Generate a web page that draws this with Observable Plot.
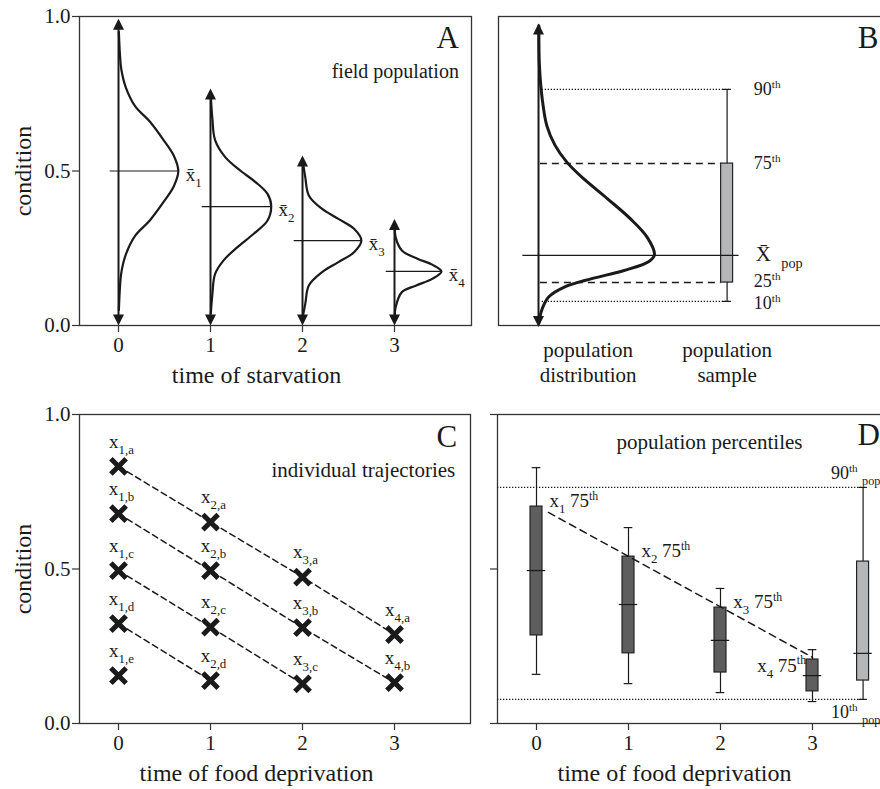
<!DOCTYPE html>
<html><head><meta charset="utf-8">
<script src="https://cdn.jsdelivr.net/npm/d3@7"></script>
<script src="https://cdn.jsdelivr.net/npm/@observablehq/plot@0.6"></script>
<style>
body{margin:0;background:#fff;}
#fig{position:relative;width:880px;height:789px;overflow:hidden;background:#fff;font-family:"Liberation Serif","Times New Roman",serif;}
.panel{position:absolute;overflow:visible;}
.panel svg{max-width:none !important;font-family:"Liberation Serif","Times New Roman",serif !important;overflow:visible;}
.panel svg text{font-family:"Liberation Serif","Times New Roman",serif;}
</style></head><body><div id="fig"></div>
<script>
// ================= DATA =================
const times = [0, 1, 2, 3];
const condTicks = [0, 0.5, 1];

// Panel A: field population distributions at each time of starvation
const meanA = [0.5, 0.385, 0.275, 0.175];
const peakA = [0.65, 0.66, 0.64, 0.51];
const arrowTopA = [0.993, 0.767, 0.55, 0.345];
const labelA = ["x\u0304_{1}", "x\u0304_{2}", "x\u0304_{3}", "x\u0304_{4}"];
const densA0 = [[0.004,0.95],[0.015,0.88],[0.03,0.83],[0.08,0.77],[0.18,0.71],[0.34,0.66],[0.49,0.60],[0.60,0.55],[0.65,0.50],[0.60,0.45],[0.49,0.40],[0.34,0.34],[0.18,0.29],[0.08,0.23],[0.03,0.17],[0.015,0.12],[0.004,0.05]];
const densA1 = [[0.004,0.74],[0.02,0.67],[0.05,0.60],[0.16,0.545],[0.33,0.50],[0.49,0.464],[0.62,0.426],[0.66,0.386],[0.62,0.34],[0.47,0.297],[0.29,0.253],[0.14,0.21],[0.05,0.167],[0.02,0.10],[0.004,0.04]];
const densA2 = [[0.004,0.53],[0.03,0.48],[0.07,0.42],[0.21,0.378],[0.39,0.345],[0.56,0.313],[0.64,0.275],[0.56,0.237],[0.39,0.205],[0.21,0.172],[0.07,0.13],[0.03,0.07],[0.004,0.03]];
const densA3 = [[0.004,0.325],[0.012,0.286],[0.08,0.243],[0.25,0.216],[0.41,0.197],[0.51,0.175],[0.41,0.151],[0.23,0.129],[0.08,0.108],[0.012,0.059],[0.004,0.035]];

// Panel B: population distribution and sample percentiles
const densB = [[0.004,0.97],[0.01,0.84],[0.04,0.734],[0.09,0.647],[0.18,0.583],[0.31,0.528],[0.49,0.475],[0.75,0.41],[1.0,0.345],[1.18,0.286],[1.26,0.229],[1.2,0.207],[0.93,0.178],[0.57,0.151],[0.28,0.124],[0.11,0.092],[0.04,0.054],[0.012,0.022],[0.004,0.008]];
const popPctNames = ["10^{th}", "25^{th}", "75^{th}", "90^{th}"];
const popPct = [0.078, 0.139, 0.524, 0.764];
const popPctLabelY = [0.072, 0.142, 0.524, 0.764];
const popMean = 0.227;
const arrowB = [-0.005, 0.977];
const sampleB = 2.05;        // position of the population-sample box in panel B
const distLabelB = 0.54;     // position of the "population distribution" caption

// Panel C: individual trajectories
const indivIds = ["a", "b", "c", "d", "e"];
const indivA = [0.832, 0.652, 0.474, 0.288];
const indivB = [0.679, 0.495, 0.31, 0.132];
const indivC = [0.495, 0.312, 0.128];
const indivD = [0.323, 0.139];
const indivE = [0.155];

// Panel D: percentiles per time of food deprivation
const boxWhiskHi = [0.828, 0.634, 0.437, 0.239];
const boxQ75 = [0.702, 0.540, 0.375, 0.207];
const boxMed = [0.495, 0.385, 0.269, 0.155];
const boxQ25 = [0.285, 0.227, 0.165, 0.104];
const boxWhiskLo = [0.159, 0.129, 0.100, 0.071];
const popBoxD = 3.55;
const trendD = [[0.13, 0.683], [3.0, 0.214]];
const labelD = ["x_{1} 75^{th}", "x_{2} 75^{th}", "x_{3} 75^{th}", "x_{4} 75^{th}"];

// ================= STYLE =================
const ink = "#1a1a1a";
const darkBox = "#5e5e5e";
const lightBox = "#b5b6b8";
const FS = 21, TITLE = 24, LETTER = 31, SMALL = 18;
const bw = 0.065, capW = 0.047, medW = 0.1;
const FONT = "'Liberation Serif', 'Times New Roman', serif";

const headUp = {draw(ctx) { ctx.moveTo(0, 0); ctx.lineTo(-5.5, 11); ctx.lineTo(5.5, 11); ctx.closePath(); }};
const headDown = {draw(ctx) { ctx.moveTo(0, 0); ctx.lineTo(-5.5, -11); ctx.lineTo(5.5, -11); ctx.closePath(); }};

function richify(svg) {
  const NS = "http://www.w3.org/2000/svg";
  for (const el of svg.querySelectorAll("text, tspan")) {
    if (el.children.length) continue;
    const s = el.textContent;
    if (!/[_^]\{/.test(s)) continue;
    const host = el.closest("[font-size]");
    const fs = host ? parseFloat(host.getAttribute("font-size")) : 20;
    el.textContent = "";
    let cur = 0, last = 0, m;
    const re = /([_^])\{([^}]*)\}/g;
    const push = (txt, shift, size) => {
      if (!txt) return;
      const ts = document.createElementNS(NS, "tspan");
      ts.textContent = txt;
      if (shift !== cur) ts.setAttribute("dy", (shift - cur).toFixed(1));
      cur = shift;
      if (size) ts.setAttribute("font-size", size.toFixed(1));
      el.appendChild(ts);
    };
    while ((m = re.exec(s))) {
      push(s.slice(last, m.index), 0, null);
      if (m[1] === "_") push(m[2], fs * 0.32, fs * 0.68);
      else push(m[2], -fs * 0.4, fs * 0.62);
      last = re.lastIndex;
    }
    push(s.slice(last), 0, null);
  }
}

function place(svg, left, top, w, h) {
  const d = document.createElement("div");
  d.className = "panel";
  d.style.left = left + "px";
  d.style.top = top + "px";
  d.style.width = w + "px";
  d.style.height = h + "px";
  svg.style.maxWidth = "none";
  svg.style.width = w + "px";
  svg.style.height = h + "px";
  svg.style.fontFamily = FONT;
  svg.setAttribute("font-family", FONT);
  d.appendChild(svg);
  document.getElementById("fig").appendChild(d);
  richify(svg);
}

const baseStyle = `font-family: ${FONT}; color: ${ink}; background: transparent; overflow: visible; max-width: none;`;
const frame = () => Plot.frame({stroke: "#333", strokeWidth: 1.3});
const yAxis = (labels) => Plot.axisY({ticks: condTicks, tickFormat: labels ? d3.format(".1f") : () => "", tickSize: 7, tickPadding: 2, fontSize: FS, label: null, stroke: "#333", strokeWidth: 1.2});
const xAxis = () => Plot.axisX({ticks: times, tickFormat: d3.format("d"), tickSize: 7, tickPadding: 5, fontSize: FS, label: null, stroke: "#333", strokeWidth: 1.2});
const yTitle = () => Plot.text(["condition"], {frameAnchor: "left", dx: -56, rotate: -90, textAnchor: "middle", lineAnchor: "middle", fontSize: TITLE, fill: ink});
const xTitle = (t) => Plot.text([t], {x: 1.5, frameAnchor: "bottom", dy: 50, textAnchor: "middle", lineAnchor: "middle", fontSize: TITLE, fill: ink});

// ================= PANEL A =================
const densA = [densA0, densA1, densA2, densA3];
const rowsA = densA.flatMap((pts, i) => pts.map(([dx, c]) => ({k: i, x: times[i] + dx, c})));
const plotA = Plot.plot({
  width: 490, height: 390, marginLeft: 79, marginRight: 19, marginTop: 16, marginBottom: 65,
  x: {domain: [-0.424, 3.837]}, y: {domain: [0, 1]},
  style: baseStyle,
  marks: [
    frame(), yAxis(true), xAxis(), yTitle(), xTitle("time of starvation"),
    Plot.ruleX(times, {x: d => d, y1: 0.01, y2: (d, i) => arrowTopA[i] - 0.01, stroke: ink, strokeWidth: 2}),
    Plot.dot(times, {x: d => d, y: (d, i) => arrowTopA[i], symbol: headUp, fill: ink, stroke: "none"}),
    Plot.dot(times, {x: d => d, y: 0, symbol: headDown, fill: ink, stroke: "none"}),
    Plot.ruleY(times, {y: (d, i) => meanA[i], x1: d => d - 0.09, x2: (d, i) => d + peakA[i], stroke: ink, strokeWidth: 1.2}),
    Plot.line(rowsA, {x: "x", y: "c", z: "k", curve: "catmull-rom", stroke: ink, strokeWidth: 2.2}),
    Plot.text(times, {x: (d, i) => d + peakA[i] + 0.08, y: (d, i) => meanA[i] - 0.012, text: (d, i) => labelA[i], textAnchor: "start", fontSize: 19, fill: ink}),
    Plot.text(["A"], {x: 3.70, y: 0.929, textAnchor: "end", fontSize: LETTER, fill: ink}),
    Plot.text(["field population"], {x: 3.70, y: 0.822, textAnchor: "end", fontSize: 20, fill: ink})
  ]
});
place(plotA, 0, 0, 490, 390);

// ================= PANEL B =================
const rowsB = densB.map(([dx, c]) => ({x: dx, c}));
const pctRows = popPct.map((v, i) => ({v, ly: popPctLabelY[i], name: popPctNames[i], dotted: i === 0 || i === 3}));
const plotB = Plot.plot({
  width: 410, height: 390, marginLeft: 8, marginRight: 10, marginTop: 16, marginBottom: 65,
  x: {domain: [-0.435, 3.826], axis: null}, y: {domain: [0, 1], axis: null},
  style: baseStyle,
  marks: [
    frame(),
    Plot.ruleY(pctRows.filter(d => d.dotted), {y: "v", x1: 0.04, x2: sampleB + capW, stroke: ink, strokeWidth: 1.3, strokeDasharray: "1.3,1.7"}),
    Plot.ruleY(pctRows.filter(d => !d.dotted), {y: "v", x1: 0.02, x2: sampleB - bw, stroke: ink, strokeWidth: 1.5, strokeDasharray: "7,5"}),
    Plot.ruleX([sampleB], {x: d => d, y1: popPct[0], y2: popPct[3], stroke: ink, strokeWidth: 1.2}),
    Plot.ruleY([popPct[0], popPct[3]], {y: d => d, x1: sampleB - capW, x2: sampleB + capW, stroke: ink, strokeWidth: 1.2}),
    Plot.rect([sampleB], {x1: d => d - bw, x2: d => d + bw, y1: popPct[1], y2: popPct[2], fill: lightBox, stroke: "#222", strokeWidth: 1.2}),
    Plot.ruleY([popMean], {y: d => d, x1: -0.17, x2: sampleB + 0.13, stroke: ink, strokeWidth: 1.2}),
    Plot.ruleX([0], {x: d => d, y1: arrowB[0] + 0.01, y2: arrowB[1] - 0.01, stroke: ink, strokeWidth: 2}),
    Plot.dot([0], {x: d => d, y: arrowB[1], symbol: headUp, fill: ink, stroke: "none"}),
    Plot.dot([0], {x: d => d, y: arrowB[0], symbol: headDown, fill: ink, stroke: "none"}),
    Plot.line(rowsB, {x: "x", y: "c", curve: "catmull-rom", stroke: ink, strokeWidth: 3}),
    Plot.text(pctRows, {x: sampleB + 0.29, y: "ly", text: "name", textAnchor: "start", fontSize: SMALL, fill: ink}),
    Plot.text(["X\u0304\u2002_{pop}"], {x: sampleB + 0.31, y: popMean + 0.002, textAnchor: "start", fontSize: 21, fill: ink}),
    Plot.text(["population\ndistribution"], {x: distLabelB, frameAnchor: "bottom", dy: 36, textAnchor: "middle", lineAnchor: "middle", lineHeight: 1.18, fontSize: FS, fill: ink}),
    Plot.text(["population\nsample"], {x: sampleB, frameAnchor: "bottom", dy: 36, textAnchor: "middle", lineAnchor: "middle", lineHeight: 1.18, fontSize: FS, fill: ink}),
    Plot.text(["B"], {x: 3.47, y: 0.929, textAnchor: "start", fontSize: LETTER, fill: ink})
  ]
});
place(plotB, 490, 0, 410, 390);

// ================= PANEL C =================
const trajRows = [indivA, indivB, indivC, indivD, indivE].flatMap((vals, j) => vals.map((c, t) => ({id: indivIds[j], t, c})));
const plotC = Plot.plot({
  width: 490, height: 399, marginLeft: 79, marginRight: 20, marginTop: 24, marginBottom: 66,
  x: {domain: [-0.424, 3.826]}, y: {domain: [0, 1]},
  style: baseStyle,
  marks: [
    frame(), yAxis(true), xAxis(), yTitle(), xTitle("time of food deprivation"),
    Plot.line(trajRows, {x: "t", y: "c", z: "id", stroke: ink, strokeWidth: 1.5, strokeDasharray: "6,4"}),
    Plot.dot(trajRows, {x: "t", y: "c", symbol: "times", r: 7, stroke: ink, strokeWidth: 5}),
    Plot.text(trajRows, {x: "t", y: "c", text: d => `x_{${d.t + 1},${d.id}}`, dx: 3, dy: -25, fontSize: 19, fill: ink}),
    Plot.text(["C"], {x: 3.68, y: 0.926, textAnchor: "end", fontSize: LETTER, fill: ink}),
    Plot.text(["individual trajectories"], {x: 3.66, y: 0.819, textAnchor: "end", fontSize: FS, fill: ink})
  ]
});
place(plotC, 0, 390, 490, 399);

// ================= PANEL D =================
const boxRows = times.map((t, i) => ({t, hi: boxWhiskHi[i], q75: boxQ75[i], med: boxMed[i], q25: boxQ25[i], lo: boxWhiskLo[i], fill: darkBox}));
boxRows.push({t: popBoxD, hi: popPct[3], q75: popPct[2], med: popMean, q25: popPct[1], lo: popPct[0], fill: lightBox});
const labelRowsD = times.map((t, i) => ({t, c: boxQ75[i], text: labelD[i]}));
const plotD = Plot.plot({
  width: 410, height: 399, marginLeft: 7, marginRight: 10, marginTop: 24, marginBottom: 66,
  x: {domain: [-0.424, 3.848]}, y: {domain: [0, 1]},
  style: baseStyle,
  marks: [
    frame(), yAxis(false), xAxis(), xTitle("time of food deprivation"),
    Plot.ruleY([popPct[0], popPct[3]], {y: d => d, x1: -0.424, x2: popBoxD, stroke: ink, strokeWidth: 1.3, strokeDasharray: "1.3,1.7"}),
    Plot.ruleX(boxRows, {x: "t", y1: "lo", y2: "hi", stroke: ink, strokeWidth: 1.2}),
    Plot.ruleY(boxRows, {y: "hi", x1: d => d.t - capW, x2: d => d.t + capW, stroke: ink, strokeWidth: 1.2}),
    Plot.ruleY(boxRows, {y: "lo", x1: d => d.t - capW, x2: d => d.t + capW, stroke: ink, strokeWidth: 1.2}),
    Plot.rect(boxRows, {x1: d => d.t - bw, x2: d => d.t + bw, y1: "q25", y2: "q75", fill: "fill", stroke: "#222", strokeWidth: 1.2}),
    Plot.ruleY(boxRows, {y: "med", x1: d => d.t - medW, x2: d => d.t + medW, stroke: ink, strokeWidth: 1.2}),
    Plot.line(trendD, {x: d => d[0], y: d => d[1], stroke: ink, strokeWidth: 1.5, strokeDasharray: "7,5"}),
    Plot.text(labelRowsD.slice(0, 3), {x: d => d.t + 0.14, y: d => d.c + 0.018, text: "text", textAnchor: "start", fontSize: 19, fill: ink}),
    Plot.text(labelRowsD.slice(3), {x: d => d.t - 0.07, y: d => d.c - 0.019, text: "text", textAnchor: "end", fontSize: 19, fill: ink}),
    Plot.text(["90^{th} _{pop}"], {x: 3.2, y: 0.81, textAnchor: "start", fontSize: SMALL, fill: ink}),
    Plot.text(["10^{th} _{pop}"], {x: 3.2, y: 0.036, textAnchor: "start", fontSize: SMALL, fill: ink}),
    Plot.text(["population percentiles"], {x: 1.88, y: 0.909, fontSize: FS, fill: ink}),
    Plot.text(["D"], {x: 3.49, y: 0.935, textAnchor: "start", fontSize: LETTER, fill: ink})
  ]
});
place(plotD, 490, 390, 410, 399);
</script></body></html>
